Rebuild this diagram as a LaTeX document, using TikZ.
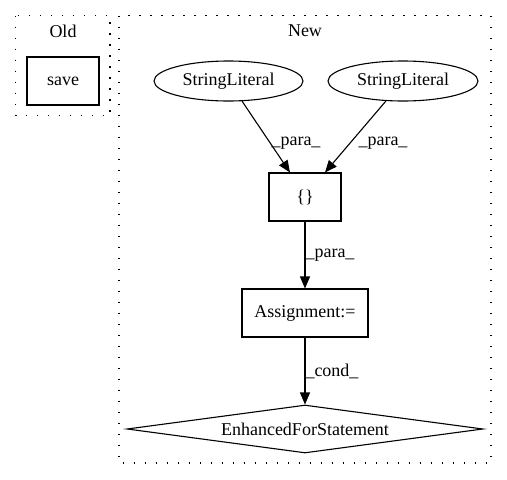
\documentclass[tikz,border=0pt]{standalone}
\usepackage{fontspec}
\setmainfont{Liberation Serif}
\usetikzlibrary{arrows.meta,shapes.geometric}
\begin{document}
\begin{tikzpicture}[x=1pt,y=-1pt,
  every node/.style={font=\fontsize{18}{21.6}\selectfont, inner sep=0pt},
  clusterline/.style={line width=1.2pt, dash pattern=on 1.3pt off 9.7pt},
  boxnode/.style={draw, line width=1.1pt, rectangle, minimum height=48pt},
  ellnode/.style={draw, line width=1.1pt, ellipse, minimum height=40pt},
  dianode/.style={draw, line width=1.1pt, diamond, aspect=7.5, minimum width=356pt, minimum height=48pt},
  edge/.style={line width=1.1pt, -{Triangle[length=12pt,width=10pt]}},
  lbl/.style={}]
\useasboundingbox (0,0) rectangle (507,480);
% clusters
\draw[clusterline] (15.7,15.7) rectangle (110,115.5);
\node (oldlbl) at (63,31) {Old};
\draw[clusterline] (119,15.7) rectangle (491,463);
\node (newlbl) at (305,31) {New};
% nodes
\node[boxnode, minimum width=72pt] (save) at (63,81) {save};
\node[ellnode, minimum width=149pt] (sl1) at (228.5,81) {StringLiteral};
\node[ellnode, minimum width=150pt] (sl2) at (403,81) {StringLiteral};
\node[boxnode, minimum width=72pt] (cb) at (305,197) {\{\}};
\node[boxnode, minimum width=126pt] (asg) at (305,313) {Assignment:=};
\node[dianode] (efs) at (305,429) {EnhancedForStatement};
% edges
\draw[edge] (sl1) -- ([xshift=-15pt]cb.north);
\draw[edge] (sl2) -- ([xshift=20pt]cb.north);
\draw[edge] (cb) -- (asg);
\draw[edge] (asg) -- (efs);
% edge labels
\node[lbl] (l1) at (296,143) {\_para\_};
\node[lbl] (l2) at (383,143) {\_para\_};
\node[lbl] (l3) at (330,255) {\_para\_};
\node[lbl] (l4) at (332,371) {\_cond\_};
\end{tikzpicture}
\end{document}
